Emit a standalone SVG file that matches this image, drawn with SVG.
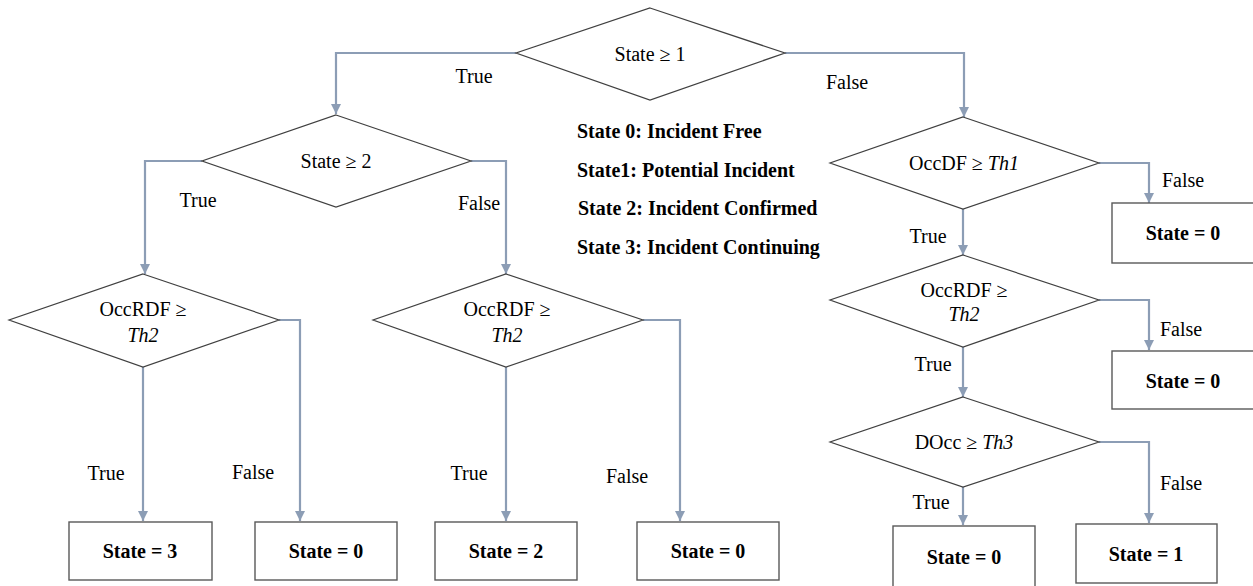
<svg xmlns="http://www.w3.org/2000/svg" width="1253" height="586" viewBox="0 0 1253 586">
<style>
.d{fill:#fff;stroke:#404040;stroke-width:1.2}
.b{fill:#fff;stroke:#595959;stroke-width:1.4}
text{font-family:'Liberation Serif','Times New Roman',Times,serif;fill:#000}
.t{font-size:20px;text-anchor:middle}
.bt{font-size:20px;font-weight:bold;text-anchor:middle}
.lg{font-size:20px;font-weight:bold}
.c{fill:none;stroke:#8c9db5;stroke-width:2.2;marker-end:url(#ah)}
.i{font-style:italic}
</style>
<defs>
<marker id="ah" markerUnits="userSpaceOnUse" markerWidth="10" markerHeight="11" refX="10" refY="5" orient="auto">
<path d="M0,0 L10,5 L0,10 z" fill="#8c9db5"/>
</marker>
</defs>
<rect width="1253" height="586" fill="#fff"/>
<g id="connectors">
<path class="c" d="M516,53 H336 V114"/>
<path class="c" d="M785,53 H964 V117"/>
<path class="c" d="M202,161 H145 V274"/>
<path class="c" d="M471,161 H506 V274"/>
<path class="c" d="M143,367 V521"/>
<path class="c" d="M279,320 H300 V521"/>
<path class="c" d="M506,367 V521"/>
<path class="c" d="M643,320 H680 V521"/>
<path class="c" d="M1099,163 H1149 V203"/>
<path class="c" d="M963,209 V255"/>
<path class="c" d="M1099,300 H1149 V350"/>
<path class="c" d="M963,347 V397"/>
<path class="c" d="M1099,442 H1149 V523"/>
<path class="c" d="M963,487 V525"/>
</g>
<g id="labels">
<text class="t" x="474" y="83">True</text>
<text class="t" x="847" y="89">False</text>
<text class="t" x="198" y="207">True</text>
<text class="t" x="479" y="210">False</text>
<text class="t" x="106" y="480">True</text>
<text class="t" x="253" y="479">False</text>
<text class="t" x="469" y="480">True</text>
<text class="t" x="627" y="483">False</text>
<text class="t" x="1183" y="187">False</text>
<text class="t" x="928" y="243">True</text>
<text class="t" x="1181" y="336">False</text>
<text class="t" x="933" y="371">True</text>
<text class="t" x="1181" y="490">False</text>
<text class="t" x="931" y="509">True</text>
</g>
<g id="legend">
<text class="lg" x="577" y="138">State 0: Incident Free</text>
<text class="lg" x="577" y="177">State1: Potential Incident</text>
<text class="lg" x="578" y="215">State 2: Incident Confirmed</text>
<text class="lg" x="577" y="254">State 3: Incident Continuing</text>
</g>
<g id="n_state1">
<polygon class="d" points="650,8 785,53 650,100 516,53"/>
<text class="t" x="650" y="61">State ≥ 1</text>
</g>
<g id="n_state2">
<polygon class="d" points="336,115 471,161 336,207 202,161"/>
<text class="t" x="336" y="168">State ≥ 2</text>
</g>
<g id="n_occrdf_a">
<polygon class="d" points="143,274 279,320 143,367 9,320"/>
<text class="t" x="143" y="316">OccRDF ≥</text>
<text class="t i" x="143" y="342">Th2</text>
</g>
<g id="n_occrdf_b">
<polygon class="d" points="506,274 643,320 506,367 373,320"/>
<text class="t" x="507" y="316">OccRDF ≥</text>
<text class="t i" x="507" y="342">Th2</text>
</g>
<g id="n_occdf">
<polygon class="d" points="963,117 1099,163 963,209 830,163"/>
<text class="t" x="964" y="170">OccDF ≥ <tspan class="i">Th1</tspan></text>
</g>
<g id="n_occrdf_c">
<polygon class="d" points="963,255 1099,300 963,347 830,300"/>
<text class="t" x="964" y="297">OccRDF ≥</text>
<text class="t i" x="964" y="321">Th2</text>
</g>
<g id="n_docc">
<polygon class="d" points="963,397 1099,442 963,487 830,442"/>
<text class="t" x="964" y="449">DOcc ≥ <tspan class="i">Th3</tspan></text>
</g>
<g id="b_state3">
<rect class="b" x="69" y="522" width="143" height="58"/>
<text class="bt" x="140" y="558">State = 3</text>
</g>
<g id="b_state0_a">
<rect class="b" x="255" y="522" width="142" height="58"/>
<text class="bt" x="326" y="558">State = 0</text>
</g>
<g id="b_state2">
<rect class="b" x="435" y="522" width="142" height="58"/>
<text class="bt" x="506" y="558">State = 2</text>
</g>
<g id="b_state0_b">
<rect class="b" x="637" y="522" width="142" height="58"/>
<text class="bt" x="708" y="558">State = 0</text>
</g>
<g id="b_state0_c">
<rect class="b" x="1112" y="203" width="142" height="60"/>
<text class="bt" x="1183" y="240">State = 0</text>
</g>
<g id="b_state0_d">
<rect class="b" x="1112" y="351" width="142" height="58"/>
<text class="bt" x="1183" y="388">State = 0</text>
</g>
<g id="b_state0_e">
<rect class="b" x="893" y="526" width="142" height="62"/>
<text class="bt" x="964" y="564">State = 0</text>
</g>
<g id="b_state1">
<rect class="b" x="1076" y="524" width="141" height="59"/>
<text class="bt" x="1146" y="561">State = 1</text>
</g>
</svg>
